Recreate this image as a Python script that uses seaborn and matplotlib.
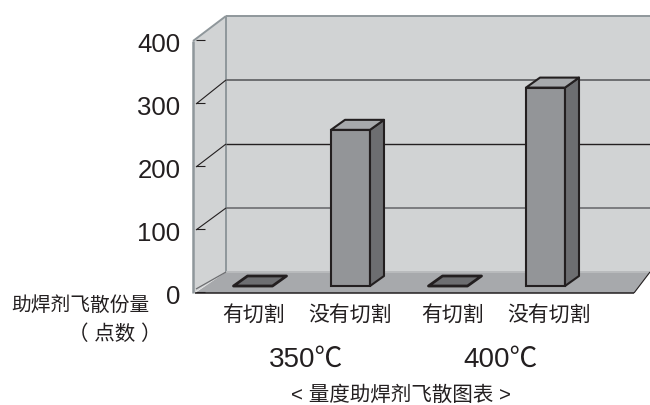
import pandas as pd
import matplotlib.pyplot as plt
import seaborn as sns
from matplotlib.patches import Polygon
from matplotlib.transforms import Affine2D

# Data
temps = ['350℃', '400℃']
cuts = ['有切割', '没有切割', '有切割', '没有切割']
groups = ['350有', '350没有', '400有', '400没有']
values = [0, 244, 0, 310]
y_ticks = [0, 100, 200, 300, 400]

df = pd.DataFrame({'group': groups, 'value': values})

W, H = 650, 406
sns.set_theme(style='white')
plt.rcParams['font.family'] = ['Liberation Sans', 'Noto Sans CJK SC', 'DejaVu Sans']

WALL = '#d1d3d4'
FLOOR = '#a7a9ac'
FRONT = '#939598'
SIDE = '#6d6e71'
INK = '#231f20'
FRAME = '#8f979b'

fig = plt.figure(figsize=(W / 100, H / 100), dpi=100)


def rect_px(left, top, right, bottom):
    return [left / W, 1 - bottom / H, (right - left) / W, (bottom - top) / H]


# Pixel space for the fake 3D box
px = Affine2D().scale(1 / W, -1 / H).translate(0, 1) + fig.transFigure

# Axis with the value labels sits on the front plane of the box
ax_ticks = fig.add_axes(rect_px(193, 42, 650, 295))
ax_ticks.set_ylim(0, 400)
ax_ticks.set_xticks([])
ax_ticks.set_yticks(y_ticks)
ax_ticks.tick_params(axis='y', length=0, pad=9, labelsize=18.5, colors=INK)
ax_ticks.patch.set_visible(False)
sns.despine(ax=ax_ticks, left=True, bottom=True)

# Main axes: value 0 at the bar base
ax = fig.add_axes(rect_px(193, 31, 650, 287))
ax.patch.set_visible(False)
ax.set_zorder(2)

# Front faces of the bars
sns.barplot(data=df, x='group', y='value', order=groups, color=FRONT, saturation=1,
            width=0.4, ax=ax, edgecolor=INK, linewidth=1.5)
ax.set_ylim(0, 400)
ax.set_xlim((193 - 253) / 97.5, (650 - 253) / 97.5)
for bar in ax.patches:
    bar.set_clip_on(False)
    bar.set_zorder(3)

# Walls and floor
back = [(226, 17), (650, 17), (650, 273), (226, 273)]
left = [(193, 42), (226, 17), (226, 273), (194, 294)]
floor = [(226, 273), (650, 273), (634, 294), (195, 294)]
for shape, color in [(back, WALL), (left, WALL), (floor, FLOOR)]:
    ax.add_patch(Polygon(shape, closed=True, fc=color, ec='none', transform=px,
                         clip_on=False, zorder=0))


def frame_line(xs, ys, color=FRAME, lw=1.4):
    ax.add_line(plt.Line2D(xs, ys, color=color, lw=lw, transform=px, clip_on=False,
                           zorder=0.5, solid_capstyle='butt'))


frame_line([226, 650], [17, 17])
frame_line([226, 226], [17, 273])
frame_line([193, 193], [42, 294], lw=1.8)
frame_line([193, 226], [42, 17])
frame_line([226, 650], [273, 273], color='#b9bbbd')
frame_line([195, 634], [294, 294], color=INK, lw=1.1)
frame_line([634, 650], [294, 273], color=INK, lw=0.8)

# Grid on the back wall and its diagonal on the side wall
for v, color, lw in [(100, '#6d6e71', 1.2), (200, INK, 1.0), (300, '#6d6e71', 1.4)]:
    y_back = 273 - 0.64 * v
    y_front = 294 - 0.63 * v
    frame_line([226, 650], [y_back, y_back], color=color, lw=lw)
    frame_line([196, 226], [y_front, y_back], color=INK, lw=0.8)
for v in y_ticks:
    y_front = 294 - 0.63 * v
    frame_line([196, 205], [y_front - 1, y_front - 1], color=INK, lw=0.8)
frame_line([196, 226], [290, 273], color='#6d6e71', lw=0.9)

# Side and top faces
ddx = 14 / 97.5
ddy = 10 / 0.64
half = 0.2
for i, v in enumerate(values):
    x0, x1 = i - half, i + half
    side = [(x1, 0), (x1 + ddx, ddy), (x1 + ddx, v + ddy), (x1, v)]
    top = [(x0, v), (x0 + ddx, v + ddy), (x1 + ddx, v + ddy), (x1, v)]
    if v > 0:
        ax.add_patch(Polygon(side, closed=True, fc=SIDE, ec=INK, lw=1.5, clip_on=False,
                             zorder=3, joinstyle='round'))
        ax.add_patch(Polygon(top, closed=True, fc=FLOOR, ec=INK, lw=1.5, clip_on=False,
                             zorder=3, joinstyle='round'))
    else:
        ax.add_patch(Polygon(top, closed=True, fc=SIDE, ec=INK, lw=2, clip_on=False,
                             zorder=3, joinstyle='round'))

# Labels
label_px = [254, 350, 453, 549]
ax.set_xticks([(p - 253) / 97.5 for p in label_px])
ax.set_xticklabels(cuts, fontsize=15, color=INK)
ax.tick_params(axis='x', length=0, pad=13)
ax.set_yticks([])
ax.set_xlabel('')
ax.set_ylabel('')
sns.despine(ax=ax, left=True, bottom=True)

for t, cx in zip(temps, [306, 500]):
    ax.text(cx, 360, t, ha='center', va='center', fontsize=20, color=INK,
            transform=px, clip_on=False)

ax.text(80, 305, '助焊剂飞散份量', ha='center', va='center', fontsize=14.2, color=INK,
        transform=px, clip_on=False)
ax.text(115, 334, '（ 点数 ）', ha='center', va='center', fontsize=14.8, color=INK,
        transform=px, clip_on=False)
ax.text(401, 395, '< 量度助焊剂飞散图表 >', ha='center', va='center', fontsize=14.8,
        color=INK, transform=px, clip_on=False)

fig.savefig('out.png', dpi=100)
plt.close(fig)
